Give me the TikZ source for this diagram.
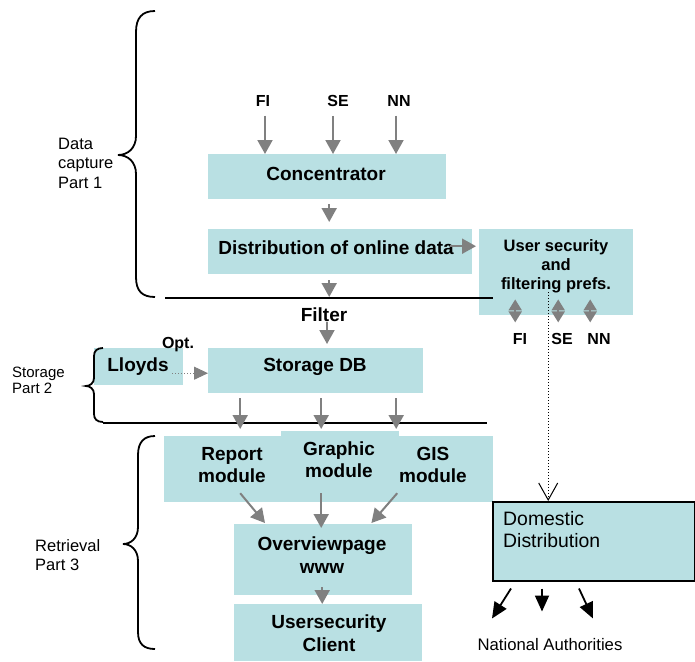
\documentclass[tikz,border=0pt]{standalone}
\usepackage{fontspec}
\setmainfont{Liberation Sans}
\usetikzlibrary{arrows.meta}
\definecolor{boxc}{HTML}{B9E0E3}
\definecolor{arrg}{HTML}{808080}
\begin{document}
\begin{tikzpicture}[x=1pt,y=-1pt,
  box/.style={fill=boxc, draw=none, inner sep=0pt, anchor=north west},
  bt/.style={font=\bfseries\fontsize{19}{22}\selectfont, inner sep=0pt, align=center},
  st/.style={font=\bfseries\fontsize{16}{19}\selectfont, inner sep=0pt, align=center},
  rt/.style={font=\fontsize{16.5}{19.5}\selectfont, inner sep=0pt, align=left},
  garr/.style={draw=arrg, line width=2pt, -{Triangle[length=14pt,width=15pt]}, arrg},
  gdbl/.style={draw=arrg, line width=2pt, {Triangle[length=11pt,width=13pt]}-{Triangle[length=11pt,width=13pt]}, arrg},
  gdot/.style={draw=arrg, line width=1pt, dotted, -{Triangle[length=14pt,width=13pt]}, arrg},
  barr/.style={draw=black, line width=1.8pt, -{Triangle[length=16pt,width=14pt]}},
  brace/.style={draw=black, line width=1.8pt},
  rule/.style={draw=black, line width=1.8pt}]
\useasboundingbox (0,0) rectangle (695,661);

% ---------- boxes ----------
\node[box, minimum width=238pt, minimum height=45pt] (conc) at (208,154) {};
\node[box, minimum width=264pt, minimum height=45pt] (dist) at (208,229) {};
\node[box, minimum width=154pt, minimum height=86pt] (usec) at (479,229) {};
\node[box, minimum width=89pt, minimum height=37pt] (lloyds) at (94,348) {};
\node[box, minimum width=215pt, minimum height=45pt] (sdb) at (208,348) {};
\node[box, minimum width=117pt, minimum height=66pt] (rep) at (164,436) {};
\node[box, minimum width=118pt, minimum height=71pt] (gra) at (281,431) {};
\node[box, minimum width=94pt, minimum height=66pt] (gis) at (399,436) {};
\node[box, minimum width=178pt, minimum height=71pt] (ovw) at (234,524) {};
\node[box, minimum width=188pt, minimum height=57pt] (ucl) at (234,604) {};
\node[box, draw=black, line width=1.5pt, minimum width=202pt, minimum height=79pt] (dom) at (492,501) {};

% ---------- texts ----------
\node[st] (fi1) at (263,101) {FI};
\node[st] (se1) at (338,101) {SE};
\node[st] (nn1) at (399,101) {NN};
\node[bt] (tconc) at (326,174) {Concentrator};
\node[bt] (tdist) at (336,248) {Distribution of online data};
\node[font=\bfseries\fontsize{16.5}{19}\selectfont, inner sep=0pt, align=center] (tusec) at (556,266) {User security\\and\\filtering prefs.};
\node[st] (fi2) at (520,339) {FI};
\node[st] (se2) at (562,339) {SE};
\node[st] (nn2) at (599,339) {NN};
\node[bt] (filt) at (324,315) {Filter};
\node[st] (opt) at (178,345) {Opt.};
\node[bt] (tlloyds) at (138,367) {Lloyds};
\node[bt] (tsdb) at (315,367) {Storage DB};
\node[bt] (trep) at (232,465) {Report\\module};
\node[bt] (tgra) at (339,460) {Graphic\\module};
\node[bt] (tgis) at (433,465) {GIS\\module};
\node[font=\bfseries\fontsize{19}{23}\selectfont, inner sep=0pt, align=center] (tovw) at (322,555) {Overviewpage\\www};
\node[font=\bfseries\fontsize{19}{23}\selectfont, inner sep=0pt, align=center] (tucl) at (329,633) {Usersecurity\\Client};
\node[font=\fontsize{19.4}{22}\selectfont, inner sep=0pt, align=left, anchor=west] (tdom) at (503,530) {Domestic\\Distribution};
\node[font=\fontsize{16.7}{19}\selectfont, inner sep=0pt] (nat) at (550,645) {National Authorities};
\node[rt, anchor=west] (p1) at (58,163) {Data\\capture\\Part 1};
\node[font=\fontsize{15}{16}\selectfont, inner sep=0pt, align=left, anchor=west] (p2) at (12,380) {Storage\\Part 2};
\node[rt, anchor=west] (p3) at (35,555) {Retrieval\\Part 3};

% ---------- braces and rules ----------
\draw[brace] (155,11) .. controls (142,11) and (136,18) .. (136,32) -- (136,136)
  .. controls (136,148) and (128,155) .. (118,155)
  .. controls (128,155) and (136,162) .. (136,174) -- (136,277)
  .. controls (136,291) and (142,297) .. (155,297);
\draw[brace] (103,348) .. controls (97,348) and (94,351) .. (94,356) -- (94,378)
  .. controls (94,383) and (90,386) .. (86,386)
  .. controls (90,386) and (94,389) .. (94,394) -- (94,414)
  .. controls (94,419) and (97,422) .. (103,422);
\draw[brace] (155,436) .. controls (144,436) and (138,442) .. (138,455) -- (138,527)
  .. controls (138,538) and (131,544) .. (123,544)
  .. controls (131,544) and (138,550) .. (138,561) -- (138,632)
  .. controls (138,644) and (144,649) .. (155,649);
\coordinate (l1a) at (165,298);
\coordinate (l1b) at (493,298);
\draw[rule] (l1a) -- (l1b);
\coordinate (l2a) at (103,423);
\coordinate (l2b) at (487,423);
\draw[rule] (l2a) -- (l2b);

% ---------- connectors ----------
\draw[garr, shorten <=9pt] ([xshift=2pt]fi1.south) -- ([xshift=2pt]fi1.south |- conc.north);
\draw[garr, shorten <=9pt] ([xshift=-5pt]se1.south) -- ([xshift=-5pt]se1.south |- conc.north);
\draw[garr, shorten <=9pt] ([xshift=-3pt]nn1.south) -- ([xshift=-3pt]nn1.south |- conc.north);
\draw[garr, shorten <=5pt, shorten >=7pt] ([xshift=2pt]conc.south) -- ([xshift=2pt]conc.south |- dist.north);
\draw[garr, shorten >=3pt] ([xshift=-22pt,yshift=5.5pt]dist.east) -- ([yshift=5.5pt]dist.east -| usec.west);
\draw[garr, shorten <=6pt, shorten >=1pt] ([xshift=-11pt]dist.south) -- ([xshift=-11pt]dist.south |- l1a);
\draw[garr, shorten >=4pt] ([xshift=3pt]filt.south) -- ([xshift=3pt]filt.south |- sdb.north);
\draw[gdot] ([xshift=-11pt,yshift=-6.5pt]lloyds.east) -- ([yshift=-6.5pt]lloyds.east -| sdb.west);
\draw[garr, shorten <=5pt, shorten >=7pt] ([xshift=-75.5pt]sdb.south) -- ([xshift=-75.5pt]sdb.south |- rep.north);
\draw[garr, shorten <=5pt, shorten >=7pt] ([xshift=5.5pt]sdb.south) -- ([xshift=5.5pt]sdb.south |- rep.north);
\draw[garr, shorten <=5pt, shorten >=7pt] ([xshift=80.5pt]sdb.south) -- ([xshift=80.5pt]sdb.south |- rep.north);
\draw[garr] ([xshift=17.5pt,yshift=-24pt]rep.center) -- ([xshift=31pt,yshift=1pt]ovw.north west);
\draw[garr] ([xshift=-19pt,yshift=-26.5pt]gra.center) -- ([xshift=-2pt,yshift=-4pt]ovw.north);
\draw[garr] ([xshift=-49pt,yshift=-24pt]gis.center) -- ([xshift=-41pt,yshift=1pt]ovw.north east);
\draw[garr] ([xshift=-1pt,yshift=8pt]ovw.south) -- ([xshift=-1pt]ovw.south |- ucl.north);
\draw[gdbl] ([xshift=-41pt,yshift=16pt]usec.south) -- ([xshift=-41pt,yshift=-7pt]usec.south);
\draw[gdbl] ([xshift=2pt,yshift=16pt]usec.south) -- ([xshift=2pt,yshift=-7pt]usec.south);
\draw[gdbl] ([xshift=34pt,yshift=16pt]usec.south) -- ([xshift=34pt,yshift=-7pt]usec.south);
\draw[black, line width=1pt, dotted, -{Straight Barb[length=17pt,width=19pt,line width=1pt]}] ([xshift=-8pt,yshift=23pt]usec.south) -- ([xshift=-8pt]usec.south |- dom.north);
\draw[barr] ([xshift=19pt,yshift=-7pt]dom.south west) -- ([yshift=-37pt]dom.south west);
\draw[barr] ([xshift=50pt,yshift=-7pt]dom.south west) -- ([xshift=50pt,yshift=-30pt]dom.south west);
\draw[barr] ([xshift=87pt,yshift=-7pt]dom.south west) -- ([xshift=101pt,yshift=-37pt]dom.south west);
\end{tikzpicture}
\end{document}
